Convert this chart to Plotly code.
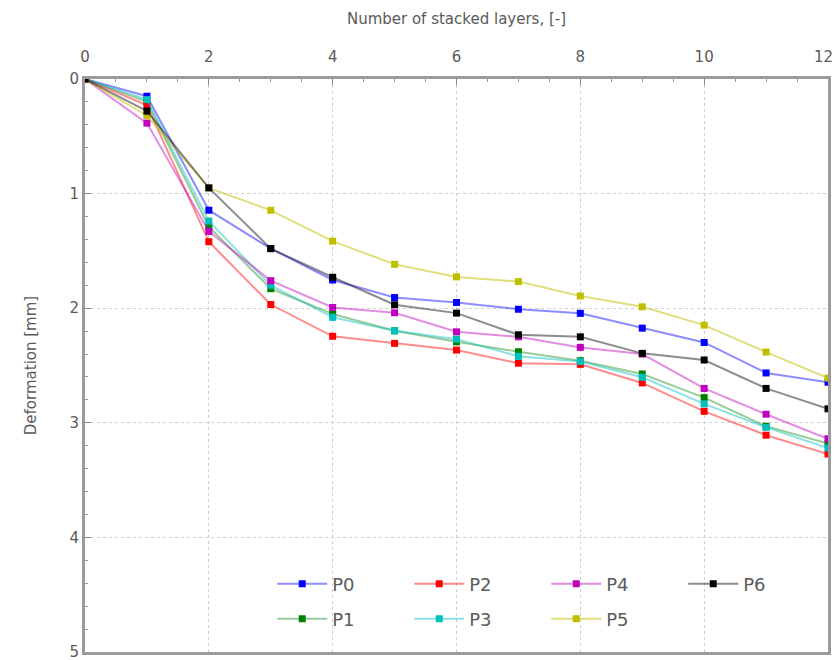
import plotly.graph_objects as go

layers = [0, 1, 2, 3, 4, 5, 6, 7, 8, 9, 10, 11, 12]

P0 = [0, 0.15, 1.145, 1.48, 1.754, 1.907, 1.95, 2.009, 2.045, 2.174, 2.299, 2.565, 2.646]
P1 = [0, 0.20, 1.29, 1.83, 2.05, 2.197, 2.293, 2.38, 2.458, 2.574, 2.78, 3.03, 3.18]
P2 = [0, 0.23, 1.42, 1.968, 2.245, 2.307, 2.365, 2.48, 2.49, 2.652, 2.9, 3.108, 3.272]
P3 = [0, 0.18, 1.24, 1.80, 2.08, 2.197, 2.27, 2.42, 2.466, 2.603, 2.835, 3.04, 3.22]
P4 = [0, 0.385, 1.33, 1.76, 1.994, 2.04, 2.206, 2.25, 2.342, 2.40, 2.70, 2.925, 3.139]
P5 = [0, 0.32, 0.95, 1.146, 1.415, 1.617, 1.727, 1.768, 1.893, 1.988, 2.148, 2.383, 2.61]
P6 = [0, 0.28, 0.95, 1.48, 1.73, 1.97, 2.043, 2.232, 2.25, 2.394, 2.452, 2.70, 2.878]

series_names = ["P0", "P1", "P2", "P3", "P4", "P5", "P6"]
series_values = [P0, P1, P2, P3, P4, P5, P6]
marker_colors = ["#0000ff", "#008000", "#ff0000", "#00bfbf", "#bf00bf", "#bfbf00", "#000000"]
line_colors = ["rgba(0,0,255,0.45)", "rgba(0,128,0,0.4)", "rgba(255,0,0,0.45)",
               "rgba(0,191,191,0.45)", "rgba(191,0,191,0.45)", "rgba(191,191,0,0.5)",
               "rgba(0,0,0,0.45)"]
legend_rows = ["legend", "legend2", "legend", "legend2", "legend", "legend2", "legend"]

x_ticks = [0, 2, 4, 6, 8, 10, 12]
x_tick_labels = ["0", "2", "4", "6", "8", "10", "12"]
y_ticks = [0, 1, 2, 3, 4, 5]

TEXT = "#5a5a5a"
FONT = "DejaVu Sans"

fig = go.Figure()
for name, vals, mc, lc, lg in zip(series_names, series_values, marker_colors, line_colors, legend_rows):
    fig.add_trace(go.Scatter(
        x=layers, y=vals, name=name, mode="lines+markers",
        line=dict(color=lc, width=2),
        marker=dict(color=mc, size=7, symbol="square"),
        legend=lg,
    ))

legend_common = dict(
    orientation="h", xanchor="left", yanchor="middle",
    entrywidth=72, entrywidthmode="pixels", itemwidth=50,
    font=dict(size=18, color=TEXT), bgcolor="rgba(0,0,0,0)",
)

fig.update_layout(
    width=836, height=660,
    margin=dict(l=85, r=8, t=79, b=8, autoexpand=False),
    paper_bgcolor="white", plot_bgcolor="white",
    font=dict(family=FONT, color=TEXT, size=15),
    showlegend=True,
    legend=dict(x=0.252, y=(652 - 584) / 573, **legend_common),
    legend2=dict(x=0.252, y=(652 - 619) / 573, **legend_common),
)

# last top tick label is drawn as an annotation nudged inside the page
fig.add_annotation(
    x=x_ticks[-1], xref="x", y=1, yref="paper", text=x_tick_labels[-1],
    showarrow=False, xanchor="right", yanchor="bottom", xshift=7, yshift=11,
    font=dict(size=15, color=TEXT),
)

fig.update_xaxes(
    side="top", range=[0, 12], tickvals=x_ticks,
    ticktext=x_tick_labels[:-1] + [""],
    title=dict(text="Number of stacked layers, [-]", font=dict(size=15, color=TEXT), standoff=20),
    automargin=False, ticklabelstandoff=8, ticklabeloverflow="allow",
    showline=True, mirror=True, linecolor="#9a9a9a", linewidth=3,
    ticks="inside", ticklen=6, tickcolor="#888", tickwidth=1,
    minor=dict(dtick=0.5, ticks="inside", ticklen=3, tickcolor="#999", showgrid=False),
    showgrid=True, gridcolor="#cfcfcf", griddash="dot", gridwidth=1,
    zeroline=False, tickfont=dict(size=15, color=TEXT),
)
fig.update_yaxes(
    range=[5, 0], tickvals=y_ticks, ticktext=[str(v) for v in y_ticks],
    title=dict(text="Deformation [mm]", font=dict(size=15, color=TEXT), standoff=30),
    automargin=False, ticklabeloverflow="allow",
    showline=True, mirror=True, linecolor="#9a9a9a", linewidth=3,
    ticks="inside", ticklen=6, tickcolor="#888", tickwidth=1,
    minor=dict(dtick=0.2, ticks="inside", ticklen=3, tickcolor="#999", showgrid=False),
    showgrid=True, gridcolor="#cfcfcf", griddash="dot", gridwidth=1,
    zeroline=False, tickfont=dict(size=15, color=TEXT),
)

fig.write_html("out.html", config={"displayModeBar": False},
               post_script="document.body.style.margin='0';")
